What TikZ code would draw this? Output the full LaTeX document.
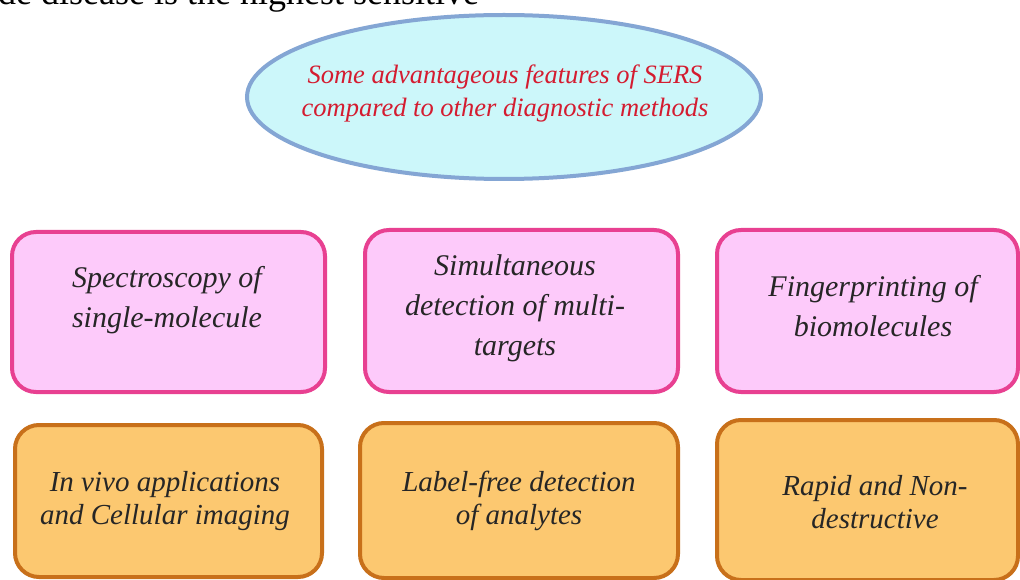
\documentclass[tikz,border=0pt]{standalone}
\usepackage{fontspec}
\setmainfont{Liberation Serif}
\usepackage{xcolor}
\definecolor{skyfill}{RGB}{204,247,250}
\definecolor{skyline}{RGB}{132,166,212}
\definecolor{titlered}{RGB}{212,28,48}
\definecolor{pinkfill}{RGB}{253,202,250}
\definecolor{pinkline}{RGB}{232,64,145}
\definecolor{orangefill}{RGB}{252,200,112}
\definecolor{orangeline}{RGB}{200,112,26}

\tikzset{
  featbox/.style={rounded corners=24pt, line width=4pt},
  toptext/.style={font=\fontsize{30}{40}\selectfont\itshape, align=center, text=black!85},
  lowtext/.style={font=\fontsize{29}{33}\selectfont\itshape, align=center, text=black!85},
}

\begin{document}
\begin{tikzpicture}[x=1pt, y=-1pt]
  \useasboundingbox (0,0) rectangle (1020,580);
  \clip (0,0) rectangle (1020,580);
  \fill[white] (0,0) rectangle (1020,580);

  % cut-off line of the page above
  \node[anchor=base west, inner sep=0pt, font=\fontsize{36}{40}\selectfont] (intro) at (-2,5)
    {de disease is the highest sensitive};

  % title ellipse
  \draw[skyline, fill=skyfill, line width=4pt] (504,97) ellipse (257 and 82);
  \node[font=\fontsize{26.5}{33}\selectfont\itshape, text=titlered, align=center] (sers) at (505,93)
    {Some advantageous features of SERS\\compared to other diagnostic methods};

  % first row
  \draw[featbox, draw=pinkline, fill=pinkfill] (12,232) rectangle (325,392);
  \draw[featbox, draw=pinkline, fill=pinkfill] (365,230) rectangle (678,392);
  \draw[featbox, draw=pinkline, fill=pinkfill] (717,230) rectangle (1018,392);
  \node[toptext] (single) at (167,300) {Spectroscopy of\\single-molecule};
  \node[toptext] (multi) at (515,308) {Simultaneous\\detection of multi-\\targets};
  \node[toptext] (finger) at (873,306) {Fingerprinting of\\biomolecules};

  % second row
  \draw[featbox, draw=orangeline, fill=orangefill] (15,425) rectangle (322,577);
  \draw[featbox, draw=orangeline, fill=orangefill] (360,423) rectangle (678,578);
  \draw[featbox, draw=orangeline, fill=orangefill] (717,420) rectangle (1018,580);
  \node[lowtext] (invivo) at (165,501) {In vivo applications\\and Cellular imaging};
  \node[lowtext] (label) at (519,501) {Label-free detection\\of analytes};
  \node[lowtext] (rapid) at (875,502) {Rapid and Non-\\destructive};
\end{tikzpicture}
\end{document}
